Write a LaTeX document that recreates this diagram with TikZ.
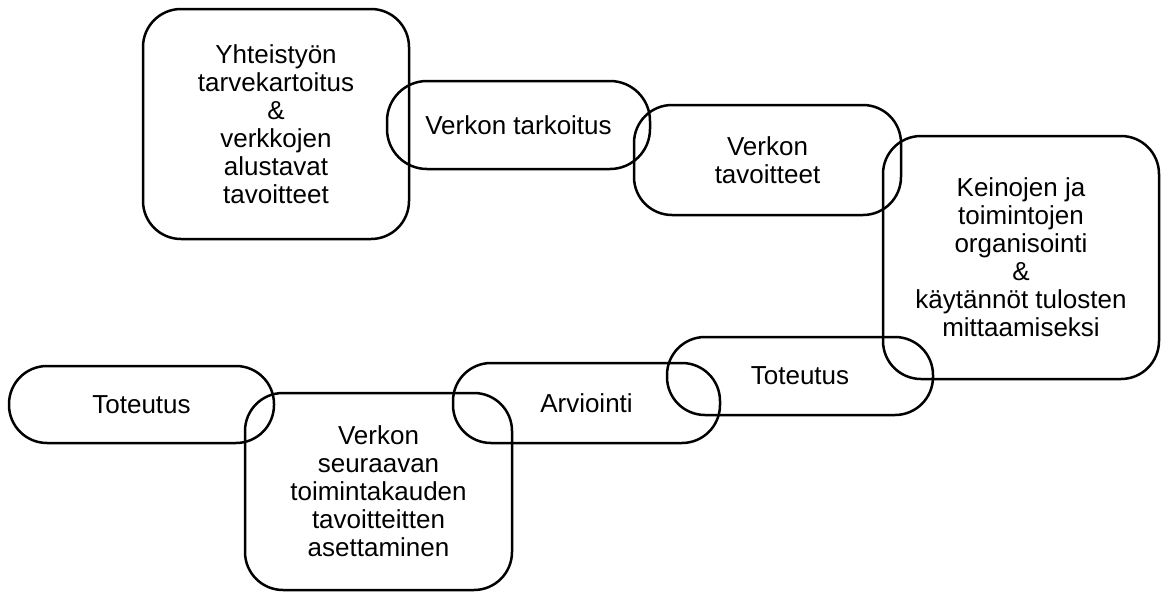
\documentclass[tikz,border=0pt]{standalone}
\usepackage{fontspec}
\setmainfont{Liberation Sans}
\usetikzlibrary{shapes}

\begin{document}
\begin{tikzpicture}[x=0.5pt,y=-0.5pt]
  \useasboundingbox (0,0) rectangle (1162,594);
    \begin{scope}[every node/.style={draw, line width=1.25pt, rounded corners=19pt, align=center, inner sep=0pt, font=\fontsize{13pt}{14pt}\selectfont}]
  \node(KART) [minimum width=133pt, minimum height=115pt] at (276,124) {Yhteistyön\\tarvekartoitus\\\&\\verkkojen\\alustavat\\tavoitteet};
  \node(TARK) [minimum width=131.5pt, minimum height=44pt, rounded corners=20pt] at (518.5,125) {Verkon tarkoitus};
  \node(TAV)  [minimum width=133.5pt, minimum height=55pt] at (767.5,160) {Verkon\\tavoitteet};
  \node(KEIN) [minimum width=138pt, minimum height=121.5pt] at (1021,257.5) {Keinojen ja\\toimintojen\\organisointi\\\&\\käytännöt tulosten\\mittaamiseksi};
  \node(TOT)  [minimum width=133pt, minimum height=39pt] at (800,376) {Toteutus};
  \node(ARV)  [minimum width=133.5pt, minimum height=40pt] at (586.5,403) {Arviointi};
  \node(ASET) [minimum width=133.5pt, minimum height=98.5pt] at (378.5,491.5) {Verkon\\seuraavan\\toimintakauden\\tavoitteitten\\asettaminen};
  \node(TOTB) [minimum width=132.5pt, minimum height=38.5pt] at (141.5,404.5) {Toteutus};
    \end{scope}
  \end{tikzpicture}
\end{document}
